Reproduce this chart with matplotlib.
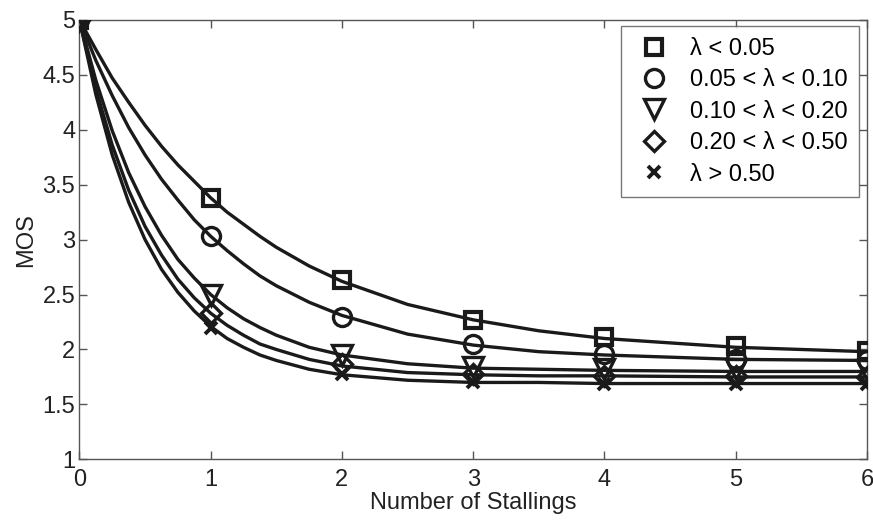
import numpy as np
import matplotlib
matplotlib.use("Agg")
import matplotlib.pyplot as plt

plt.rcParams['font.family'] = ['Liberation Sans', 'DejaVu Sans']

# measured points (markers)
stalls = [0, 1, 2, 3, 4, 5, 6]
mos_sq = [5.0, 3.38, 2.63, 2.27, 2.11, 2.03, 1.99]
mos_ci = [5.0, 3.03, 2.30, 2.05, 1.96, 1.91, 1.90]
mos_tri = [5.0, 2.50, 1.95, 1.84, 1.82, 1.82, 1.81]
mos_dia = [5.0, 2.33, 1.87, 1.78, 1.76, 1.76, 1.75]
mos_x = [5.0, 2.20, 1.78, 1.70, 1.69, 1.69, 1.69]

# fitted curves
curve_x = [0, 0.125, 0.25, 0.375, 0.5, 0.625, 0.75, 0.875, 1, 1.125, 1.25, 1.375, 1.5, 1.75,
           2, 2.5, 3, 3.5, 4, 5, 6]
curve_sq = [5.0, 4.73, 4.47, 4.25, 4.04, 3.85, 3.68, 3.53, 3.38, 3.25, 3.14, 3.03, 2.93, 2.76,
            2.62, 2.41, 2.27, 2.17, 2.10, 2.02, 1.98]
curve_ci = [5.0, 4.63, 4.31, 4.02, 3.77, 3.55, 3.36, 3.18, 3.03, 2.90, 2.78, 2.67, 2.58, 2.43,
            2.31, 2.14, 2.04, 1.98, 1.95, 1.91, 1.90]
curve_tri = [5.0, 4.45, 3.99, 3.61, 3.30, 3.04, 2.82, 2.65, 2.50, 2.38, 2.28, 2.20, 2.13, 2.02,
             1.95, 1.87, 1.83, 1.82, 1.81, 1.80, 1.80]
curve_dia = [5.0, 4.37, 3.86, 3.45, 3.12, 2.86, 2.64, 2.47, 2.33, 2.22, 2.13, 2.05, 2.00, 1.91,
             1.85, 1.79, 1.77, 1.76, 1.76, 1.75, 1.75]
curve_xx = [5.0, 4.32, 3.77, 3.34, 3.00, 2.73, 2.52, 2.35, 2.21, 2.10, 2.02, 1.95, 1.90, 1.82,
            1.77, 1.72, 1.70, 1.70, 1.69, 1.69, 1.69]

labels = ['λ < 0.05', '0.05 < λ < 0.10', '0.10 < λ < 0.20', '0.20 < λ < 0.50', 'λ > 0.50']

fig = plt.figure(figsize=(8.73, 5.22), dpi=100)
ax = fig.add_axes([0.091, 0.12, 0.902, 0.842])

for c in [curve_sq, curve_ci, curve_tri, curve_dia, curve_xx]:
    ax.plot(curve_x, c, color='#1a1a1a', lw=2.4, zorder=2, solid_joinstyle='round')

ax.plot(stalls, mos_sq, ls='none', marker='s', ms=11, mfc='none', mec='#1a1a1a', mew=3, label=labels[0], zorder=3)
ax.plot(stalls, mos_ci, ls='none', marker='o', ms=13, mfc='none', mec='#1a1a1a', mew=2.4, label=labels[1], zorder=3)
ax.plot(stalls, mos_tri, ls='none', marker='v', ms=14, mfc='none', mec='#1a1a1a', mew=2.4, label=labels[2], zorder=3)
ax.plot(stalls, mos_dia, ls='none', marker='D', ms=10, mfc='none', mec='#1a1a1a', mew=2.4, label=labels[3], zorder=3)
ax.plot(stalls, mos_x, ls='none', marker='x', ms=9, mec='#1a1a1a', mew=2.8, label=labels[4], zorder=3)

ax.set_xlim(0, 6)
ax.set_ylim(1, 5)
ax.set_xticks(range(7))
ax.set_yticks([1, 1.5, 2, 2.5, 3, 3.5, 4, 4.5, 5])
ax.set_yticklabels(['1', '1.5', '2', '2.5', '3', '3.5', '4', '4.5', '5'])
ax.tick_params(direction='in', top=True, right=True, length=6, width=1, color='#555555',
               labelsize=17, labelcolor='#222222')
ax.tick_params(axis='x', pad=7)
ax.tick_params(axis='y', pad=3)
for s in ax.spines.values():
    s.set_color('#555555')
    s.set_linewidth(1)

ax.set_xlabel('Number of Stallings', fontsize=17, color='#222222', labelpad=1)
ax.set_ylabel('MOS', fontsize=17, color='#222222', labelpad=4)

leg = ax.legend(loc='upper right', bbox_to_anchor=(0.990, 0.986), borderaxespad=0, fontsize=17,
                frameon=True, fancybox=False, edgecolor='#555555', handlelength=1.8,
                handletextpad=0.6, labelspacing=0.4, borderpad=0.5)
leg.get_frame().set_linewidth(1)

fig.savefig('out.png', dpi=100)
